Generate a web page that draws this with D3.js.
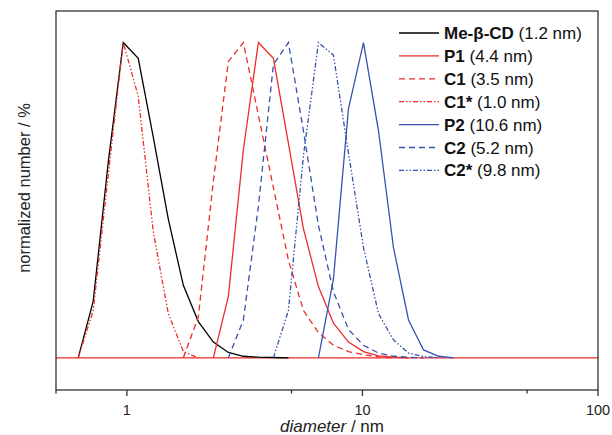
<!DOCTYPE html>
<html>
<head>
<meta charset="utf-8">
<script src="https://cdn.jsdelivr.net/npm/d3@7"></script>
<style>
  body { margin: 0; background: #fff; }
  svg { display: block; font-family: "Liberation Sans", Arial, sans-serif; }
</style>
</head>
<body>
<div id="main"></div>
<script>
// size bins (nm) shared by all distributions
var bins = [0.6213, 0.7195, 0.8332, 0.9649, 1.117, 1.294, 1.499, 1.736, 2.01, 2.328,
  2.696, 3.122, 3.615, 4.187, 4.849, 5.615, 6.503, 7.531, 8.721, 10.1,
  11.7, 13.54, 15.69, 18.17, 21.04, 24.36];

var meCD  = [0, 18, 62, 100, 95, 70, 44, 23, 11.5, 5, 1.7, 0.5, 0.2, 0.1, 0, 0, 0, 0, 0, 0, 0, 0, 0, 0, 0, 0];
var p1    = [0, 0, 0, 0, 0, 0, 0, 0, 0, 0, 19.5, 66, 100, 95, 68, 41, 22.6, 11, 5, 2, 0.6, 0.2, 0, 0, 0, 0];
var c1    = [0, 0, 0, 0, 0, 0, 0, 0, 13, 56, 94, 100, 77, 54, 31, 15, 8, 4, 2, 1, 0.3, 0, 0, 0, 0, 0];
var c1s   = [0, 15, 58, 100, 83, 40, 14, 2, 0, 0, 0, 0, 0, 0, 0, 0, 0, 0, 0, 0, 0, 0, 0, 0, 0, 0];
var p2    = [0, 0, 0, 0, 0, 0, 0, 0, 0, 0, 0, 0, 0, 0, 0, 0, 0, 25, 79, 100, 72, 35, 12, 2.5, 0.5, 0];
var c2    = [0, 0, 0, 0, 0, 0, 0, 0, 0, 0, 0, 12, 48, 93, 100, 72, 42, 21, 9, 4, 1.5, 0.5, 0.2, 0, 0, 0];
var c2s   = [0, 0, 0, 0, 0, 0, 0, 0, 0, 0, 0, 0, 0, 0, 15, 64, 100, 96, 65, 35, 14, 5.7, 1.5, 0.4, 0, 0];

var names = ["Me-\u03b2-CD", "P1", "C1", "C1*", "P2", "C2", "C2*"];
var sizes = ["(1.2 nm)", "(4.4 nm)", "(3.5 nm)", "(1.0 nm)", "(10.6 nm)", "(5.2 nm)", "(9.8 nm)"];
var xTicks = [0.5, 1, 5, 10, 50, 100];
var xLabels = [1, 10, 100];

var red = "#ee2b2b", blue = "#3553ad";
var series = [
  {vals: meCD, color: "#000", dash: null},
  {vals: p1, color: red, dash: null},
  {vals: c1, color: red, dash: "6,4"},
  {vals: c1s, color: red, dash: "5,2,1.5,2,1.5,2"},
  {vals: p2, color: blue, dash: null},
  {vals: c2, color: blue, dash: "6,4"},
  {vals: c2s, color: blue, dash: "5,2,1.5,2,1.5,2"}
];

var width = 612, height = 435;
var mLeft = 56, mRight = 598, mTop = 11, mBottom = 390;

var svg = d3.select("#main").append("svg")
  .attr("width", width).attr("height", height);

var x = d3.scaleLog().domain([0.5, 100]).range([mLeft, mRight]);
var y = d3.scaleLinear().domain([-10.2, 110]).range([mBottom, mTop]);

// zero baseline
svg.append("line")
  .attr("x1", x(0.5)).attr("x2", x(100))
  .attr("y1", y(0)).attr("y2", y(0))
  .style("stroke", red).style("stroke-width", 1.3);

var line = d3.line()
  .x(function (d) { return x(d[0]); })
  .y(function (d) { return y(d[1]); });

series.forEach(function (s) {
  // keep the nonzero part plus one zero on each side
  var pts = [];
  for (var i = 0; i < bins.length; i++) {
    var prev = i > 0 ? s.vals[i - 1] : 0;
    var next = i < bins.length - 1 ? s.vals[i + 1] : 0;
    if (s.vals[i] > 0 || prev > 0 || next > 0) pts.push([bins[i], s.vals[i]]);
  }
  svg.append("path")
    .datum(pts)
    .attr("d", line)
    .style("fill", "none")
    .style("stroke", s.color)
    .style("stroke-width", 1.3)
    .style("stroke-dasharray", s.dash);
});

// frame
svg.append("rect")
  .attr("x", mLeft).attr("y", mTop)
  .attr("width", mRight - mLeft).attr("height", mBottom - mTop)
  .style("fill", "none").style("stroke", "#333").style("stroke-width", 1.3);

// x axis ticks
xTicks.forEach(function (t) {
  var major = xLabels.indexOf(t) >= 0;
  svg.append("line")
    .attr("x1", x(t)).attr("x2", x(t))
    .attr("y1", mBottom).attr("y2", mBottom + (major ? 6 : 3.5))
    .style("stroke", "#333").style("stroke-width", 1.3);
});
xLabels.forEach(function (t) {
  svg.append("text")
    .text(t)
    .attr("x", x(t)).attr("y", 415)
    .attr("text-anchor", "middle")
    .style("font-size", "14.5px").style("fill", "#222");
});

var xl = svg.append("text")
  .attr("x", (mLeft + mRight) / 2 + 5).attr("y", 432)
  .attr("text-anchor", "middle")
  .style("font-size", "17px").style("fill", "#222");
xl.append("tspan").style("font-style", "italic").text("diameter");
xl.append("tspan").text(" / nm");

svg.append("text")
  .text("normalized number / %")
  .attr("transform", "translate(30,188) rotate(-90)")
  .attr("text-anchor", "middle")
  .style("font-size", "16.5px").style("fill", "#222");

// legend
var legend = svg.append("g").attr("transform", "translate(399,33)");
series.forEach(function (s, i) {
  var row = legend.append("g").attr("transform", "translate(0," + (i * 22.9) + ")");
  row.append("line")
    .attr("x1", 0).attr("x2", 40)
    .style("stroke", s.color).style("stroke-width", 1.3)
    .style("stroke-dasharray", s.dash);
  var t = row.append("text")
    .attr("x", 45).attr("y", 6)
    .style("font-size", "17px").style("fill", "#111");
  t.append("tspan").style("font-weight", "bold").text(names[i]);
  t.append("tspan").text(" " + sizes[i]);
});
</script>
</body>
</html>
